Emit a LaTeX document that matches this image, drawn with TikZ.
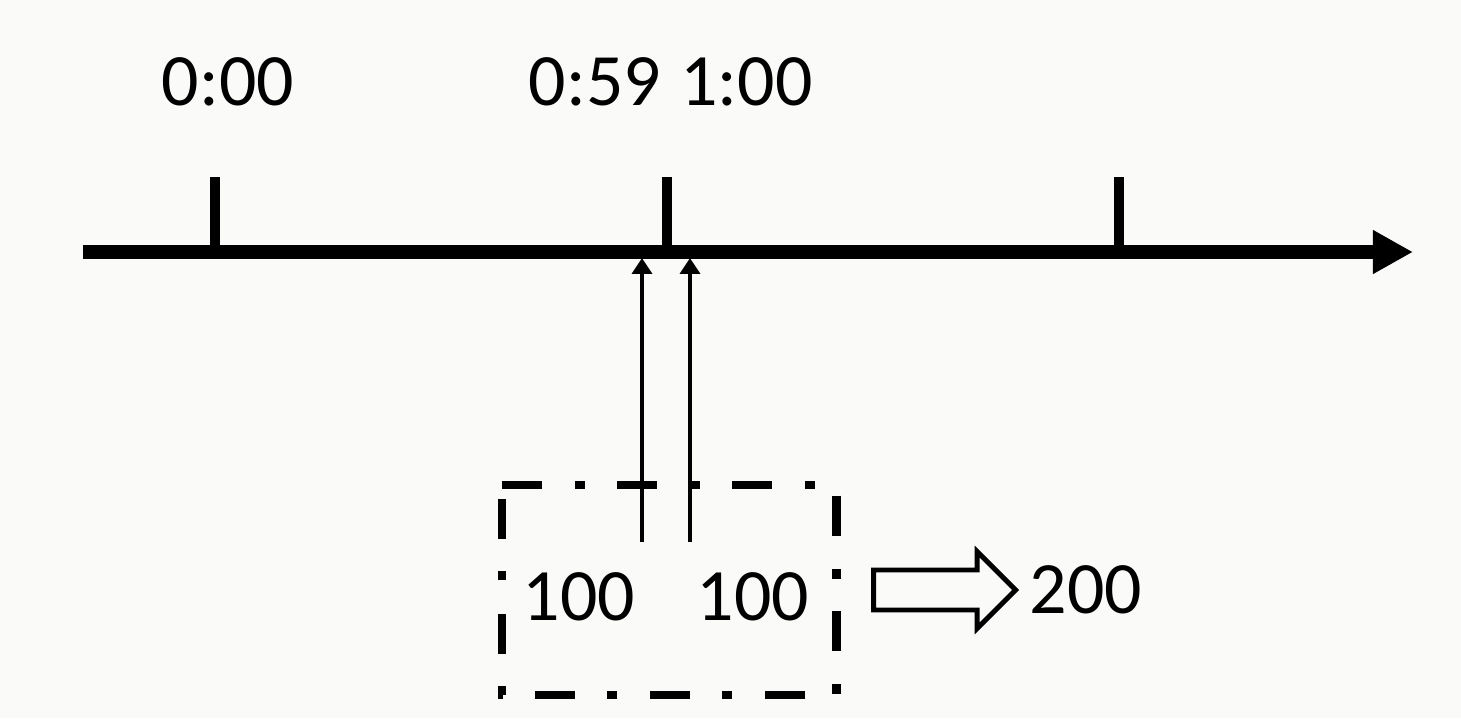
\documentclass[tikz,border=0pt]{standalone}
\usepackage{fontspec}
\setmainfont{Carlito}
\usetikzlibrary{arrows.meta,shapes.arrows,positioning}
\definecolor{paper}{RGB}{250,250,249}

\begin{document}
\begin{tikzpicture}[x=0.01cm,y=-0.01cm,
    main node/.style={inner sep=0pt,font=\fontsize{21}{25}\selectfont},
    time axis/.style={line width=3.7pt,-{Triangle[length=11.4pt,width=11.7pt]}},
    tick mark/.style={line width=2.6pt},
    thin arrow/.style={line width=1.2pt,-{Triangle[length=4.5pt,width=5.6pt]}},
    sum box/.style={outer sep=0pt,minimum width=3.34cm,minimum height=2.1cm},
    box line/.style={line width=2.5pt,dash pattern=on 11.4pt off 9.4pt on 2.8pt off 9.1pt},
    hollow arrow/.style={draw,line width=1.4pt,single arrow,single arrow head extend=0.185cm,inner sep=0.175cm,minimum height=1.42cm}]

            \fill[paper] (0,0) rectangle (1461,718);

            \coordinate (s) at (83,252);
            \coordinate (e) at (1413,252);
            \draw[time axis] (s) -- (e);

            \coordinate (t1) at (215,177);
            \coordinate (t2) at (667,177);
            \coordinate (t3) at (1119,177);
            \draw[tick mark] (t1) -- (t1 |- s);
            \draw[tick mark] (t2) -- (t2 |- s);
            \draw[tick mark] (t3) -- (t3 |- s);

            \node[main node] (1) at (228,82) {0:00};
            \node[main node] (2) at (595,82) {0:59};
            \node[main node] (3) [right=0.18cm of 2] {1:00};

            \node[sum box] (4) at (669,590) {};
            \draw[box line] (4.north west) -- (4.north east) -- (4.south east) -- (4.south west) -- cycle;
            \node[main node] (5) at (579,597) {100};
            \node[main node] (6) at (753,597) {100};
            \node[hollow arrow] (7) [right=0.35cm of 4] {};
            \node[main node] (8) [right=0.1cm of 7] {200};

            \coordinate (a1) at (642,542);
            \coordinate (a2) at (690,542);
            \draw[thin arrow] (a1) -- (642,258);
            \draw[thin arrow] (a2) -- (690,258);
        \end{tikzpicture}
\end{document}
